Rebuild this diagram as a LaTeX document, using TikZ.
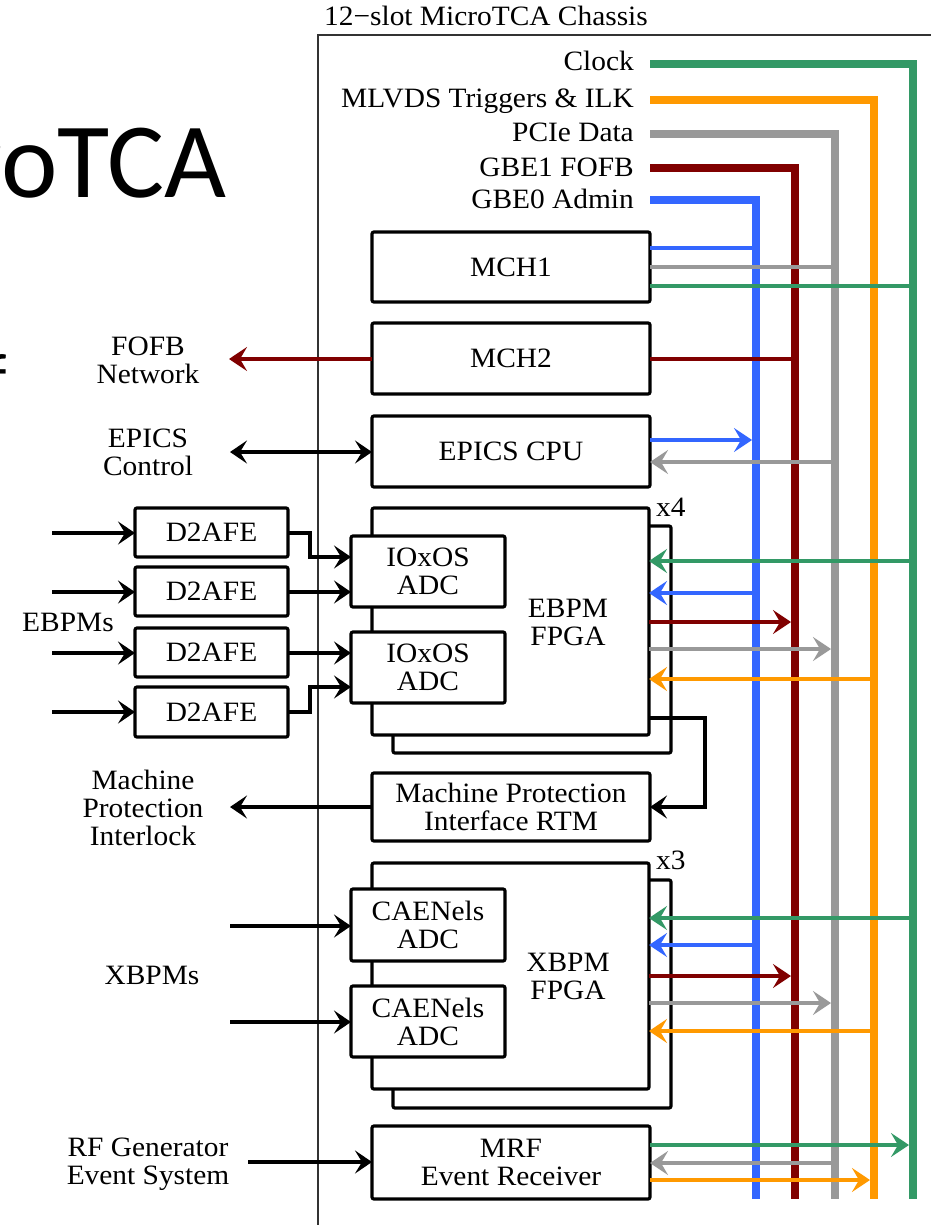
\documentclass[tikz,border=0pt]{standalone}
\usepackage{fontspec}
\setmainfont{Liberation Serif}[FakeStretch=1.05]
\newfontfamily\slidefont{Carlito}
\usetikzlibrary{arrows.meta}
\definecolor{cblue}{HTML}{3366FF}
\definecolor{cred}{HTML}{800000}
\definecolor{cgray}{HTML}{999999}
\definecolor{corange}{HTML}{FF9900}
\definecolor{cgreen}{HTML}{339966}
\begin{document}
\begin{tikzpicture}[x=1pt,y=-1pt,
  font=\fontsize{28}{28}\selectfont,
  box/.style={draw=black,line width=3.2pt,fill=white,rounded corners=2pt,inner sep=0pt,outer sep=0pt,align=center},
  lbl/.style={align=center,inner sep=0pt},
  bus/.style={line width=8pt},
  hl/.style={line width=4pt},
  tipc/.style={-{Stealth[length=18pt,width=24pt,inset=7pt]}},
  blk/.style={line width=3.2pt,-{Stealth[length=17pt,width=23pt,inset=7pt]}},
  blkboth/.style={line width=3.2pt,{Stealth[length=17pt,width=23pt,inset=7pt]}-{Stealth[length=17pt,width=23pt,inset=7pt]}},
  tobus/.style={hl,tipc,shorten >=4pt},
  frombus/.style={hl,tipc},
]
\useasboundingbox (0,0) rectangle (930,1225);

% slide remnants
\node[anchor=base east,inner sep=0pt,font=\slidefont\fontsize{107}{107}\selectfont] (title) at (227,197) {roTCA};
\node[anchor=base east,inner sep=0pt,font=\slidefont\fontsize{70}{70}\selectfont] (frag) at (7,402) {f};

% chassis
\coordinate (chTR) at (940,35);
\coordinate (chBL) at (318,1235);
\draw[line width=1.5pt,black!80] (chTR) -| (chBL);
\node[anchor=base west,inner sep=0pt] (chlbl) at (324,26) {12−slot MicroTCA Chassis};

% bus labels
\node[anchor=base east,inner sep=0pt] (lclk) at (634,71) {Clock};
\node[anchor=base east,inner sep=0pt] (lmlv) at (634,108) {MLVDS Triggers \& ILK};
\node[anchor=base east,inner sep=0pt] (lpci) at (634,142) {PCIe Data};
\node[anchor=base east,inner sep=0pt] (lgb1) at (634,176) {GBE1 FOFB};
\node[anchor=base east,inner sep=0pt] (lgb0) at (634,208) {GBE0 Admin};

% buses
\coordinate (gS) at (650,64);  \coordinate (gB) at (913,1199);
\coordinate (oS) at (650,100); \coordinate (oB) at (874,1199);
\coordinate (pS) at (650,134); \coordinate (pB) at (835,1199);
\coordinate (rS) at (650,168); \coordinate (rB) at (795,1199);
\coordinate (bS) at (650,200); \coordinate (bB) at (756,1199);
\draw[bus,cgreen] (gS) -| (gB);
\draw[bus,corange] (oS) -| (oB);
\draw[bus,cgray] (pS) -| (pB);
\draw[bus,cred] (rS) -| (rB);
\draw[bus,cblue] (bS) -| (bB);

% boxes
\node[box,minimum width=278pt,minimum height=70pt] (mch1) at (511,267) {MCH1};
\node[box,minimum width=278pt,minimum height=71pt] (mch2) at (511,358.5) {MCH2};
\node[box,minimum width=278pt,minimum height=71pt] (epics) at (511,451.5) {EPICS CPU};

\node[box,minimum width=278pt,minimum height=227pt] (ebpmback) at (532,639.5) {};
\node[box,minimum width=277pt,minimum height=227pt] (ebpm) at (510.5,621.5) {};
\node[lbl] (ebpmtxt) at (568,622) {EBPM\\FPGA};
\node[box,minimum width=154pt,minimum height=71pt] (adc1) at (428,571.5) {IOxOS\\ADC};
\node[box,minimum width=154pt,minimum height=71pt] (adc2) at (428,667.5) {IOxOS\\ADC};
\node[anchor=base west,inner sep=0pt] (x4) at (656,516) {x4};

\node[box,minimum width=278pt,minimum height=68pt] (mp) at (511,807) {Machine Protection\\Interface RTM};

\node[box,minimum width=278pt,minimum height=228pt] (xbpmback) at (532,994) {};
\node[box,minimum width=277pt,minimum height=226pt] (xbpm) at (510.5,976) {};
\node[lbl] (xbpmtxt) at (568,976) {XBPM\\FPGA};
\node[box,minimum width=154pt,minimum height=72pt] (cae1) at (428,925) {CAENels\\ADC};
\node[box,minimum width=154pt,minimum height=71pt] (cae2) at (428,1021.5) {CAENels\\ADC};
\node[anchor=base west,inner sep=0pt] (x3) at (656,869) {x3};

\node[box,minimum width=278pt,minimum height=73pt] (mrf) at (511,1162.5) {MRF\\Event Receiver};

% MCH connections
\draw[hl,cblue] (mch1.east |- 0,248) -- (bB |- 0,248);
\draw[hl,cgray] (mch1.east |- 0,267) -- (pB |- 0,267);
\draw[hl,cgreen] (mch1.east |- 0,286) -- (gB |- 0,286);
\draw[hl,cred] (mch2.east) -- (rB |- mch2.east);

% EPICS CPU connections
\draw[tobus,cblue] (epics.east |- 0,440) -- (bB |- 0,440);
\draw[frombus,cgray] (pB |- 0,462) -- (epics.east |- 0,462);

% EBPM connections
\draw[frombus,cgreen] (gB |- 0,561) -- (ebpm.east |- 0,561);
\draw[frombus,cblue] (bB |- 0,593) -- (ebpm.east |- 0,593);
\draw[tobus,cred] (ebpm.east |- 0,622) -- (rB |- 0,622);
\draw[tobus,cgray] (ebpm.east |- 0,649) -- (pB |- 0,649);
\draw[frombus,corange] (oB |- 0,679) -- (ebpm.east |- 0,679);

% XBPM connections
\draw[frombus,cgreen] (gB |- 0,918) -- (xbpm.east |- 0,918);
\draw[frombus,cblue] (bB |- 0,945) -- (xbpm.east |- 0,945);
\draw[tobus,cred] (xbpm.east |- 0,976) -- (rB |- 0,976);
\draw[tobus,cgray] (xbpm.east |- 0,1003) -- (pB |- 0,1003);
\draw[frombus,corange] (oB |- 0,1031) -- (xbpm.east |- 0,1031);

% MRF connections
\draw[tobus,cgreen] (mrf.east |- 0,1145) -- (gB |- 0,1145);
\draw[frombus,cgray] (pB |- 0,1163) -- (mrf.east |- 0,1163);
\draw[tobus,corange] (mrf.east |- 0,1180) -- (oB |- 0,1180);

% EBPM to machine protection
\coordinate (mpturn) at (705,718);
\draw[blk,line join=miter] (ebpm.east |- mpturn) -| (mpturn |- mp.east) -- (mp.east);

% left side
\node[lbl] (fofb) at (148,360) {FOFB\\Network};
\coordinate (fofbtip) at (229,359);
\draw[hl,cred,tipc] (mch2.west |- fofbtip) -- (fofbtip);

\node[lbl] (epicsctl) at (148,452) {EPICS\\Control};
\coordinate (epicstip) at (230,452);
\draw[blkboth] (epicstip) -- (epics.west |- epicstip);

\node[box,minimum width=153pt,minimum height=49pt] (d1) at (211.5,532.5) {D2AFE};
\node[box,minimum width=153pt,minimum height=49pt] (d2) at (211.5,591.5) {D2AFE};
\node[box,minimum width=153pt,minimum height=49pt] (d3) at (211.5,652.5) {D2AFE};
\node[box,minimum width=153pt,minimum height=50pt] (d4) at (211.5,712) {D2AFE};
\node[lbl] (ebpms) at (68,622) {EBPMs};
\coordinate (in1) at (52,533);
\coordinate (in2) at (52,592);
\coordinate (in3) at (52,653);
\coordinate (in4) at (52,712);
\draw[blk] (in1) -- (d1.west |- in1);
\draw[blk] (in2) -- (d2.west |- in2);
\draw[blk] (in3) -- (d3.west |- in3);
\draw[blk] (in4) -- (d4.west |- in4);
\draw[blk,line join=miter] (d1.east |- in1) -| (310,557) -- (adc1.west |- 0,557);
\draw[blk] (d2.east |- in2) -- (adc1.west |- in2);
\draw[blk] (d3.east |- in3) -- (adc2.west |- in3);
\draw[blk,line join=miter] (d4.east |- in4) -| (310,687) -- (adc2.west |- 0,687);

\node[lbl] (mpil) at (143,808) {Machine\\Protection\\Interlock};
\coordinate (mptip) at (230,807);
\draw[blk] (mp.west) -- (mptip);

\node[lbl] (xbpms) at (152,975) {XBPMs};
\coordinate (xin1) at (230,926);
\coordinate (xin2) at (230,1022);
\draw[blk] (xin1) -- (cae1.west |- xin1);
\draw[blk] (xin2) -- (cae2.west |- xin2);

\node[lbl] (rfgen) at (148,1164) {RF Generator\\Event System};
\coordinate (rfin) at (248,1162);
\draw[blk] (rfin) -- (mrf.west |- rfin);
\end{tikzpicture}
\end{document}
